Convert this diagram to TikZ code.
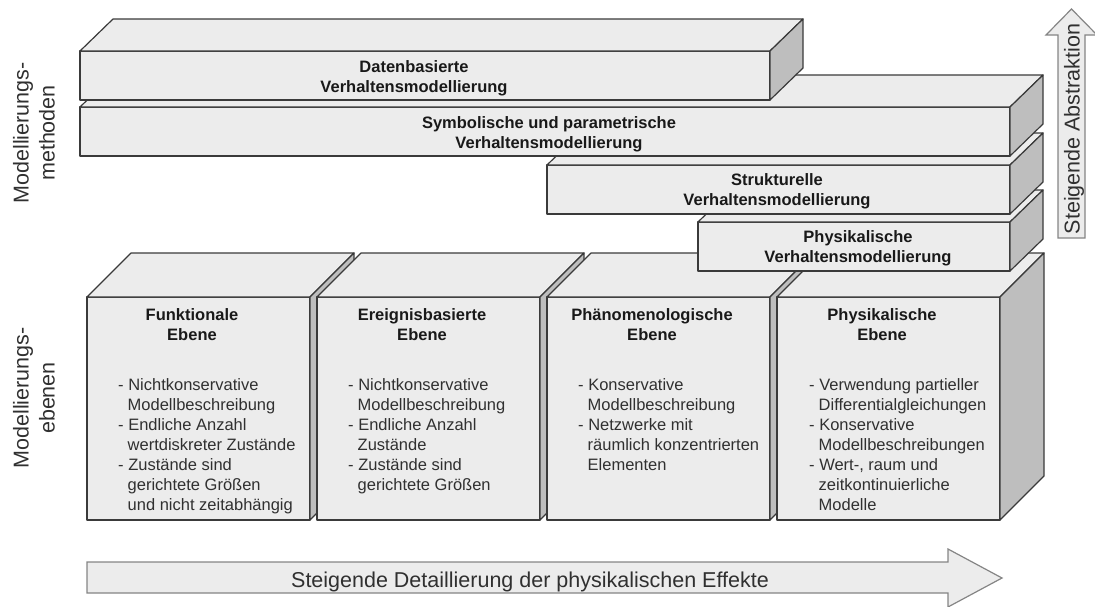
\documentclass[tikz,border=0pt]{standalone}
\usepackage{fontspec}
\setmainfont{Liberation Sans}
\definecolor{rand}{HTML}{3A3A3A}
\definecolor{hell}{HTML}{ECECEC}
\definecolor{dunkel}{HTML}{BEBEBE}
\definecolor{pfeilrand}{HTML}{858585}
\definecolor{schrift}{HTML}{303030}
\begin{document}
\begin{tikzpicture}[x=1pt,y=-1pt,
        vorne/.style={draw=rand,fill=hell,line width=1.2pt,line join=round},
        seite/.style={draw=rand,fill=dunkel,line width=1.2pt,line join=round},
        pfeil/.style={draw=pfeilrand,fill=hell,line width=1.2pt,line join=miter},
        titel/.style={anchor=north,inner sep=0pt,align=center,text=black!90,font=\fontsize{16.5}{20.5}\selectfont\bfseries},
        liste/.style={anchor=north west,inner sep=0pt,align=left,text=schrift,font=\fontsize{16.5}{20}\selectfont},
        gross/.style={inner sep=0pt,align=center,text=schrift,font=\fontsize{21.5}{26}\selectfont}]
    \useasboundingbox (0,0) rectangle (1095,606);
    \foreach \x in {87,317,547,777} {
            \filldraw[vorne] (\x,297) rectangle ++(223,223);
            \filldraw[vorne] (\x,297) -- ++(44,-44) -- ++(223,0) -- ++(-44,44) -- cycle;
            \filldraw[seite] (\x+223,297) -- ++(44,-44) -- ++(0,223) -- ++(-44,44) -- cycle;
        }
    \foreach \xa/\xb/\ya in {698/1010/222, 547/1010/165, 80/1010/107, 80/770/51} {
            \filldraw[vorne] (\xa,\ya) rectangle (\xb,\ya+49);
            \filldraw[vorne] (\xa,\ya) -- ++(33,-32) -- (\xb+33,\ya-32) -- (\xb,\ya) -- cycle;
            \filldraw[seite] (\xb,\ya) -- ++(33,-32) -- ++(0,49) -- ++(-33,32) -- cycle;
        }
    \node[titel] (daten) at (414,60) {Datenbasierte\\Verhaltensmodellierung};
    \node[titel] (symbol) at (549,116) {Symbolische und parametrische\\Verhaltensmodellierung};
    \node[titel] (struktur) at (777,173) {Strukturelle\\Verhaltensmodellierung};
    \node[titel] (physver) at (858,230) {Physikalische\\Verhaltensmodellierung};
    \node[titel] (funk) at (192,308) {Funktionale\\Ebene};
    \node[titel] (ereig) at (422,308) {Ereignisbasierte\\Ebene};
    \node[titel] (phaen) at (652,308) {Phänomenologische\\Ebene};
    \node[titel] (physeb) at (882,308) {Physikalische\\Ebene};
    \node[liste] (funkL) at (118,378) {- Nichtkonservative\\\hspace*{9.5pt}Modellbeschreibung\\- Endliche Anzahl\\\hspace*{9.5pt}wertdiskreter Zustände\\- Zustände sind\\\hspace*{9.5pt}gerichtete Größen\\\hspace*{9.5pt}und nicht zeitabhängig};
    \node[liste] (ereigL) at (348,378) {- Nichtkonservative\\\hspace*{9.5pt}Modellbeschreibung\\- Endliche Anzahl\\\hspace*{9.5pt}Zustände\\- Zustände sind\\\hspace*{9.5pt}gerichtete Größen};
    \node[liste] (phaenL) at (578,378) {- Konservative\\\hspace*{9.5pt}Modellbeschreibung\\- Netzwerke mit\\\hspace*{9.5pt}räumlich konzentrierten\\\hspace*{9.5pt}Elementen};
    \node[liste] (physebL) at (809,378) {- Verwendung partieller\\\hspace*{9.5pt}Differentialgleichungen\\- Konservative\\\hspace*{9.5pt}Modellbeschreibungen\\- Wert-, raum und\\\hspace*{9.5pt}zeitkontinuierliche\\\hspace*{9.5pt}Modelle};
    \node[gross,rotate=90] (methoden) at (34,133) {Modellierungs-\\methoden};
    \node[gross,rotate=90] (ebenen) at (34,398) {Modellierungs-\\ebenen};
    \filldraw[pfeil] (1058,238) -- (1058,35) -- (1046,35) -- (1071.5,9) -- (1097,35) -- (1085,35) -- (1085,238) -- cycle;
    \node[gross,rotate=90] (abstraktion) at (1074,129) {Steigende Abstraktion};
    \filldraw[pfeil] (87,562) -- (948,562) -- (948,549) -- (1002,578) -- (948,607) -- (948,593) -- (87,593) -- cycle;
    \node[gross,anchor=base] (detail) at (530,587) {Steigende Detaillierung der physikalischen Effekte};
\end{tikzpicture}
\end{document}
